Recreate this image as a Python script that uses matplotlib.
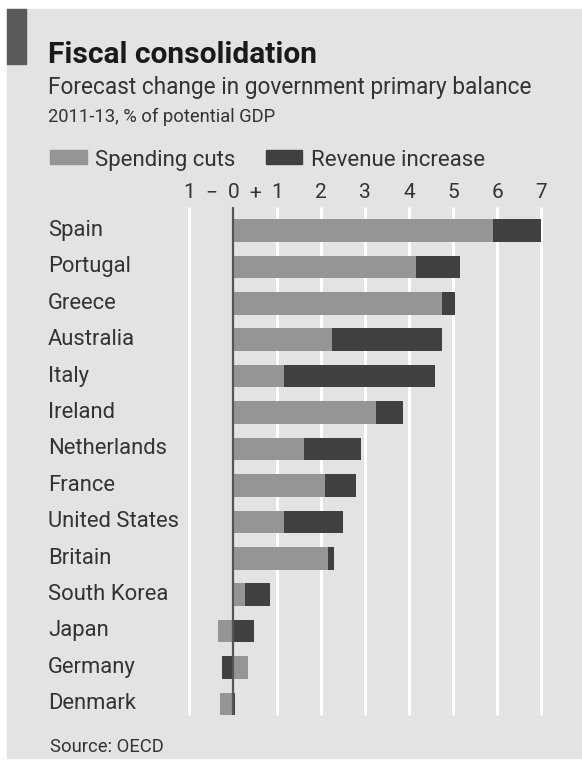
import matplotlib
matplotlib.use("Agg")
from matplotlib import pyplot as plt
from matplotlib.patches import Rectangle
import numpy as np

countries = ["Spain", "Portugal", "Greece", "Australia", "Italy", "Ireland",
             "Netherlands", "France", "United States", "Britain",
             "South Korea", "Japan", "Germany", "Denmark"]
spending = [5.9, 4.15, 4.75, 2.25, 1.15, 3.25, 1.6, 2.08, 1.15, 2.15,
            0.27, -0.35, 0.34, -0.3]
revenue = [1.1, 1.0, 0.3, 2.5, 3.45, 0.6, 1.3, 0.72, 1.35, 0.15,
           0.57, 0.47, -0.25, 0.05]
tick_pos = [-1, -0.5, 0, 0.5, 1, 2, 3, 4, 5, 6, 7]
tick_lab = ["1", "\u2212", "0", "+", "1", "2", "3", "4", "5", "6", "7"]
grid_pos = [-1, 1, 2, 3, 4, 5, 6, 7]

W, H = 582, 764
plt.rcParams['font.family'] = ['Roboto', 'DejaVu Sans']
txt = '#333333'
bg = '#e3e3e3'
light = '#959595'
dark = '#404040'

fig = plt.figure(figsize=(W/100, H/100), dpi=100)
fig.patch.set_facecolor('white')

def fx(x):
    return x / W

def fy(y):
    return 1 - y / H

# grey panel and dark tab
fig.patches.append(Rectangle((fx(7), fy(758)), fx(575), (758-9)/H,
                             transform=fig.transFigure, color=bg, zorder=-5))
fig.patches.append(Rectangle((fx(7), fy(64)), fx(19), (64-9)/H,
                             transform=fig.transFigure, color='#5a5a5a', zorder=1))

fig.text(fx(48), fy(63), "Fiscal consolidation", fontsize=21.5, fontweight='bold',
         color='#1a1a1a', va='baseline')
fig.text(fx(48), fy(94), "Forecast change in government primary balance",
         fontsize=16.3, color=txt, va='baseline')
fig.text(fx(48), fy(122), "2011-13, % of potential GDP", fontsize=13.2,
         color=txt, va='baseline')

# legend
fig.patches.append(Rectangle((fx(50), fy(164)), fx(37), 14/H,
                             transform=fig.transFigure, color=light))
fig.text(fx(95), fy(166), "Spending cuts", fontsize=16, color=txt, va='baseline')
fig.patches.append(Rectangle((fx(266), fy(164)), fx(36), 14/H,
                             transform=fig.transFigure, color=dark))
fig.text(fx(311), fy(166), "Revenue increase", fontsize=16, color=txt, va='baseline')

fig.text(fx(50), fy(752), "Source: OECD", fontsize=13.2, color=txt, va='baseline')

# axes
unit = 43.96
x0 = 189.3 - 0.25 * unit
row = 36.4
y_top = 230.5 - 0.7 * row
y_bot = 704 + 0.5 * row
ax = fig.add_axes([fx(x0), fy(y_bot), (8.5 * unit) / W, (y_bot - y_top) / H])
ax.set_facecolor('none')
ax.set_xlim(-1.25, 7.25)
ax.set_ylim(13.5, -0.7)

y = np.arange(len(countries))
s = np.array(spending)
r = np.array(revenue)
left_r = np.where(np.sign(s) == np.sign(r), s, 0)

ax.vlines(grid_pos, -0.65, 13.3, color='white', lw=2.2, zorder=1)
ax.barh(y, s, height=0.62, color=light, zorder=2)
ax.barh(y, r, left=left_r, height=0.62, color=dark, zorder=2)
ax.vlines([0], -0.65, 13.3, color='#555555', lw=1.6, zorder=3)

for sp in ax.spines.values():
    sp.set_visible(False)
ax.xaxis.tick_top()
ax.set_xticks(tick_pos)
ax.set_xticklabels(tick_lab, fontsize=15, color=txt)
ax.tick_params(axis='x', length=0, pad=2)
ax.set_yticks([])

for i, c in enumerate(countries):
    fig.text(fx(48), fy(230.5 + i * row), c, fontsize=15.8, color=txt, va='center')

fig.savefig('out.png', dpi=100, facecolor=fig.get_facecolor())
